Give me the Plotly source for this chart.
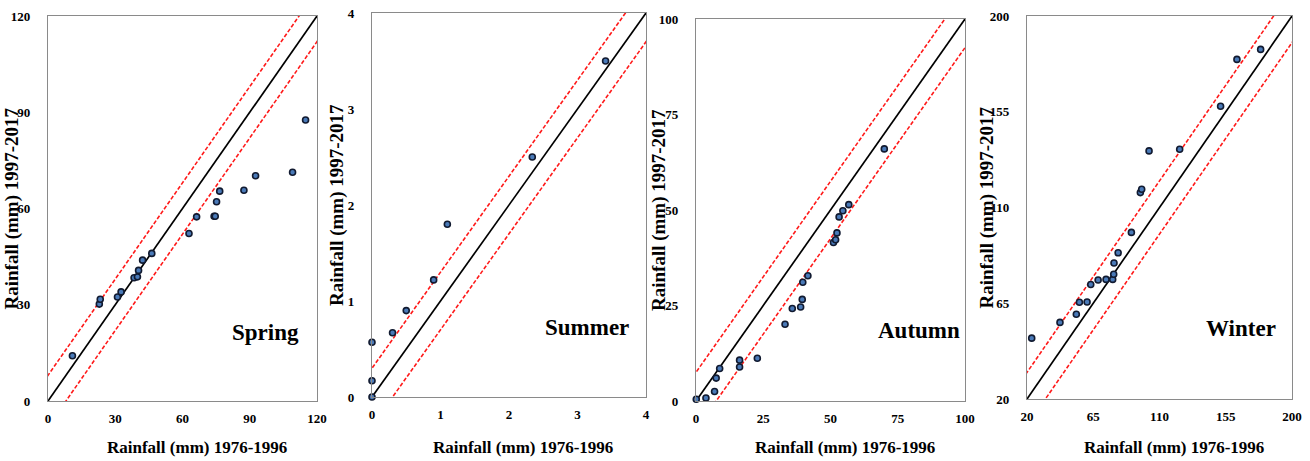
import plotly.graph_objects as go

# ---------------- data ----------------
seasons = ["Spring", "Summer", "Autumn", "Winter"]

spring_x = [10.9, 22.9, 23.3, 31.0, 32.6, 38.4, 39.9, 40.4, 42.2, 46.3, 62.9, 66.3, 74.1, 74.6, 75.2, 76.6, 87.4, 92.6, 109.1, 114.9]
spring_y = [14.1, 30.2, 31.7, 32.4, 34.0, 38.4, 38.7, 40.7, 43.9, 46.0, 52.2, 57.4, 57.6, 57.6, 62.1, 65.4, 65.7, 70.2, 71.3, 87.6]

summer_x = [0.0, 0.0, 0.0, 0.30, 0.50, 0.90, 1.10, 2.34, 3.41]
summer_y = [0.0, 0.17, 0.57, 0.67, 0.90, 1.22, 1.80, 2.50, 3.50]

autumn_x = [0.1, 3.7, 6.9, 7.5, 8.8, 16.2, 16.2, 22.8, 33.1, 35.8, 38.9, 39.5, 39.7, 41.6, 51.1, 51.9, 52.4, 53.2, 54.6, 56.8, 70.0]
autumn_y = [0.45, 0.8, 2.5, 6.0, 8.5, 8.9, 10.7, 11.2, 20.1, 24.2, 24.6, 26.6, 31.1, 32.8, 41.5, 42.2, 44.0, 48.2, 49.8, 51.4, 66.0]

winter_x = [23.2, 42.4, 53.5, 55.6, 60.8, 63.3, 68.3, 73.7, 78.2, 78.9, 79.1, 81.9, 90.9, 97.0, 97.9, 102.9, 123.7, 151.5, 162.6, 178.7]
winter_y = [48.6, 56.0, 59.8, 65.5, 65.6, 73.8, 75.9, 76.2, 76.2, 78.6, 83.9, 88.7, 98.3, 117.0, 118.6, 136.6, 137.4, 157.6, 179.6, 184.3]

axis_ranges = [(0, 120), (0, 4), (0, 100), (20, 200)]
tick_vals = [[0, 30, 60, 90, 120], [0, 1, 2, 3, 4], [0, 25, 50, 75, 100], [20, 65, 110, 155, 200]]
band_offsets = [8.0, 0.3, 7.5, 12.5]

xs = [spring_x, summer_x, autumn_x, winter_x]
ys = [spring_y, summer_y, autumn_y, winter_y]

x_title = "Rainfall (mm) 1976-1996"
y_title = "Rainfall (mm) 1997-2017"

# ---------------- layout geometry (pixels) ----------------
W, H = 1310, 461
x_dom_px = [(48, 317), (372, 646), (696, 965), (1027, 1292)]
y_dom_px = [(16, 401), (13, 397), (19, 401), (16, 399)]
label_pos_px = [(265, 332), (587, 327), (919, 330), (1241, 328)]
ytitle_x_px = [12, 337, 659, 986]

FONT = "Liberation Serif"
fig = go.Figure()
layout = dict(
    width=W, height=H,
    margin=dict(l=0, r=0, t=0, b=0, pad=0, autoexpand=False),
    paper_bgcolor="white", plot_bgcolor="white",
    showlegend=False,
    font=dict(family=FONT, color="black"),
)
annotations = []

for i in range(4):
    n = "" if i == 0 else str(i + 1)
    xa, ya = "x" + n, "y" + n
    lo, hi = axis_ranges[i]
    d = band_offsets[i]
    line_x = [lo - d, hi + d]
    # 1:1 line
    fig.add_trace(go.Scatter(x=line_x, y=line_x, mode="lines",
                             line=dict(color="black", width=1.7),
                             xaxis=xa, yaxis=ya, hoverinfo="skip"))
    # +/- band
    fig.add_trace(go.Scatter(x=line_x, y=[v + d for v in line_x], mode="lines",
                             line=dict(color="#ff1a1a", width=1.6, dash="4px,2px"),
                             xaxis=xa, yaxis=ya, hoverinfo="skip"))
    fig.add_trace(go.Scatter(x=line_x, y=[v - d for v in line_x], mode="lines",
                             line=dict(color="#ff1a1a", width=1.6, dash="4px,2px"),
                             xaxis=xa, yaxis=ya, hoverinfo="skip"))
    # points
    fig.add_trace(go.Scatter(x=xs[i], y=ys[i], mode="markers",
                             marker=dict(size=6, color="#4a7ab8",
                                         line=dict(color="#111a30", width=1.6)),
                             cliponaxis=False, xaxis=xa, yaxis=ya))

    x0, x1 = x_dom_px[i]
    yt, yb = y_dom_px[i]
    axis_common = dict(
        range=[lo, hi], tickmode="array", tickvals=tick_vals[i],
        showgrid=False, zeroline=False, showline=True, mirror=True,
        linecolor="#8a8a8a", linewidth=1.3, automargin=False,
        ticks="outside", tickcolor="rgba(0,0,0,0)",
        tickfont=dict(family=FONT, size=13, color="black", weight="bold"),
        fixedrange=True,
    )
    layout["xaxis" + n] = dict(axis_common, ticklen=5, domain=[x0 / W, x1 / W], anchor=ya)
    layout["yaxis" + n] = dict(axis_common, ticklen=14, domain=[1 - yb / H, 1 - yt / H], anchor=xa)

    # axis titles
    annotations.append(dict(text=x_title, xref="paper", yref="paper",
                            x=((x0 + x1) / 2 + 14) / W, y=1 - 447 / H,
                            showarrow=False, xanchor="center", yanchor="middle",
                            font=dict(family=FONT, size=17, color="black", weight="bold")))
    annotations.append(dict(text=y_title, xref="paper", yref="paper",
                            x=ytitle_x_px[i] / W, y=1 - ((yt + yb) / 2) / H,
                            textangle=-90, showarrow=False,
                            xanchor="center", yanchor="middle",
                            font=dict(family=FONT, size=19, color="black", weight="bold")))
    # season label
    lx, ly = label_pos_px[i]
    annotations.append(dict(text=seasons[i], xref="paper", yref="paper",
                            x=lx / W, y=1 - ly / H, showarrow=False,
                            xanchor="center", yanchor="middle",
                            font=dict(family=FONT, size=23, color="black", weight="bold")))

layout["annotations"] = annotations
fig.update_layout(**layout)
fig.write_html("out.html", config={"displayModeBar": False},
               post_script="document.body.style.margin='0px';document.body.style.padding='0px';")
